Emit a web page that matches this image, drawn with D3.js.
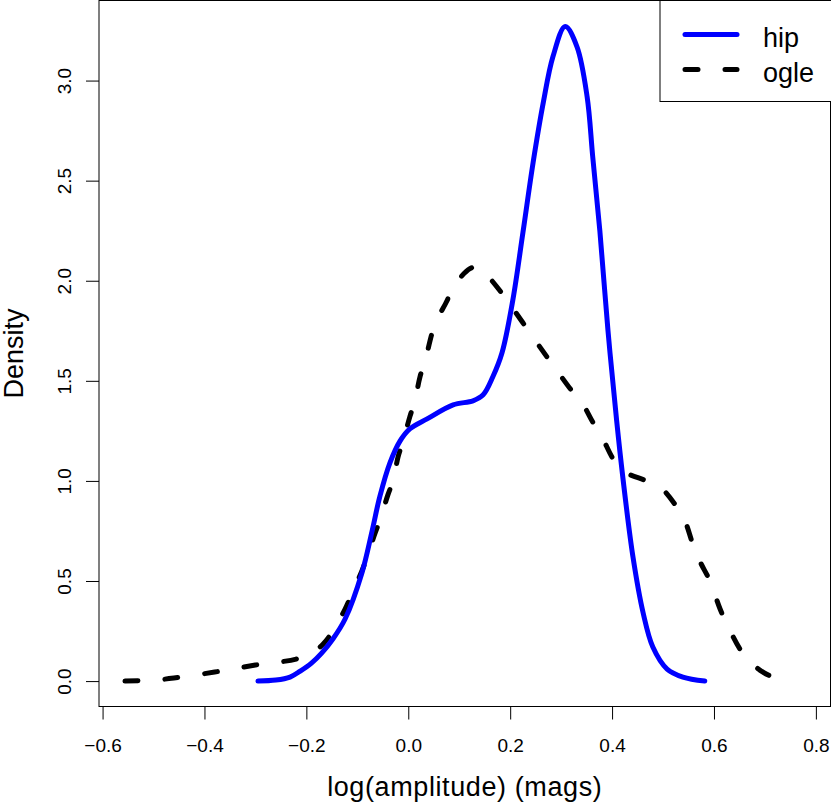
<!DOCTYPE html>
<html lang="en">

<head>
    <meta charset="UTF-8">
    <title>Density of log amplitude</title>
    <style>
        body { margin: 0; background: #fff; }
        text { font-family: "Liberation Sans", Arial, Helvetica, sans-serif; fill: #000; }
    </style>
</head>

<body>
    <div id="wrapper"></div>

    <script src="https://d3js.org/d3.v7.min.js"></script>
    <script>
        // density curves
        const hipX = [-0.295, -0.26, -0.232, -0.212, -0.19, -0.17, -0.148, -0.124, -0.091, -0.071, -0.056, -0.036, -0.016,
            0.003, 0.037, 0.088, 0.127, 0.147, 0.166, 0.184, 0.205, 0.225, 0.245, 0.265, 0.284, 0.308,
            0.331, 0.351, 0.362, 0.376, 0.392, 0.409, 0.421, 0.441, 0.461, 0.48, 0.508, 0.539, 0.582];
        const hipDensity = [0, 0.005, 0.02, 0.05, 0.09, 0.14, 0.21, 0.31, 0.54, 0.75, 0.92, 1.09, 1.2,
            1.26, 1.31, 1.38, 1.4, 1.43, 1.52, 1.64, 1.9, 2.24, 2.59, 2.89, 3.12, 3.27,
            3.17, 2.92, 2.62, 2.25, 1.75, 1.3, 1.02, 0.62, 0.34, 0.17, 0.06, 0.02, 0];

        const ogleX = [-0.556, -0.5, -0.46, -0.38, -0.3, -0.22, -0.19, -0.167, -0.148, -0.124, -0.105, -0.091, -0.081,
            -0.065, -0.056, -0.04, -0.03, -0.02, -0.01, 0.003, 0.013, 0.023, 0.033, 0.052, 0.076, 0.088,
            0.121, 0.135, 0.15, 0.18, 0.2, 0.225, 0.272, 0.292, 0.321, 0.341, 0.363, 0.38, 0.402, 0.421,
            0.468, 0.494, 0.527, 0.543, 0.559, 0.572, 0.592, 0.612, 0.63, 0.651, 0.67, 0.69, 0.72, 0.749];
        const ogleDensity = [0, 0.005, 0.015, 0.045, 0.08, 0.11, 0.14, 0.185, 0.25, 0.36, 0.47, 0.55, 0.62,
            0.74, 0.8, 0.93, 1.0, 1.12, 1.2, 1.32, 1.4, 1.52, 1.6, 1.78, 1.9, 1.97,
            2.06, 2.07, 2.04, 1.95, 1.88, 1.79, 1.62, 1.55, 1.45, 1.39, 1.29, 1.22, 1.11, 1.05,
            1.0, 0.97, 0.87, 0.8, 0.68, 0.6, 0.5, 0.36, 0.26, 0.16, 0.1, 0.055, 0.015, 0];

        const xTicks = [-0.6, -0.4, -0.2, 0.0, 0.2, 0.4, 0.6, 0.8];
        const yTicks = [0.0, 0.5, 1.0, 1.5, 2.0, 2.5, 3.0];
        const seriesNames = ["hip", "ogle"];

        const hip = hipX.map((x, i) => ({ x, y: hipDensity[i] }));
        const ogle = ogleX.map((x, i) => ({ x, y: ogleDensity[i] }));

        let dimensions = {
            width: 831,
            height: 807,
            margin: { top: 0.5, right: 0.5, bottom: 100.5, left: 99 },
        };
        dimensions.boundedWidth = dimensions.width - dimensions.margin.left - dimensions.margin.right;
        dimensions.boundedHeight = dimensions.height - dimensions.margin.top - dimensions.margin.bottom;

        const svg = d3.select("#wrapper").append("svg")
            .attr("width", dimensions.width)
            .attr("height", dimensions.height);

        const bounds = svg.append("g")
            .attr("transform", `translate(${dimensions.margin.left},${dimensions.margin.top})`);

        // plot region in data units (R pads the range a little)
        const xScale = d3.scaleLinear()
            .domain([-0.607, 0.8287])
            .range([0, dimensions.boundedWidth]);
        const yScale = d3.scaleLinear()
            .domain([-0.127, 3.40])
            .range([dimensions.boundedHeight, 0]);

        // box
        bounds.append("rect")
            .attr("width", dimensions.boundedWidth)
            .attr("height", dimensions.boundedHeight)
            .attr("fill", "none")
            .attr("stroke", "#000")
            .attr("stroke-width", 1);

        // x axis
        const xAxis = bounds.append("g")
            .attr("transform", `translate(0,${dimensions.boundedHeight})`)
            .call(d3.axisBottom(xScale).tickValues(xTicks).tickSize(13)
                .tickFormat(d => d3.format(".1f")(d).replace("-", "\u2212")));
        xAxis.select(".domain").remove();
        xAxis.selectAll(".tick line").attr("stroke", "#000");
        xAxis.selectAll(".tick text")
            .attr("dy", null)
            .attr("y", 45)
            .style("font-size", "19px");

        // y axis
        const yAxis = bounds.append("g")
            .call(d3.axisLeft(yScale).tickValues(yTicks).tickSize(13)
                .tickFormat(d3.format(".1f")));
        yAxis.select(".domain").remove();
        yAxis.selectAll(".tick line").attr("stroke", "#000");
        yAxis.selectAll(".tick text")
            .attr("x", null).attr("dy", null).attr("y", null)
            .attr("text-anchor", "middle")
            .attr("transform", "translate(-28,0) rotate(-90)")
            .style("font-size", "19px");

        // axis titles
        svg.append("text")
            .attr("x", dimensions.margin.left + dimensions.boundedWidth / 2)
            .attr("y", 796)
            .attr("text-anchor", "middle")
            .style("font-size", "27px")
            .style("letter-spacing", "0.6px")
            .text("log(amplitude) (mags)");

        svg.append("text")
            .attr("transform", `translate(23,${dimensions.margin.top + dimensions.boundedHeight / 2}) rotate(-90)`)
            .attr("text-anchor", "middle")
            .style("font-size", "27px")
            .text("Density");

        // curves
        const lineGenerator = d3.line()
            .x(d => xScale(d.x))
            .y(d => yScale(d.y))
            .curve(d3.curveCatmullRom.alpha(0.5));

        bounds.append("path")
            .attr("d", lineGenerator(ogle))
            .attr("fill", "none")
            .attr("stroke", "#000")
            .attr("stroke-width", 5)
            .attr("stroke-linecap", "round")
            .attr("stroke-dasharray", "13,27");

        bounds.append("path")
            .attr("d", lineGenerator(hip))
            .attr("fill", "none")
            .attr("stroke", "#0000ff")
            .attr("stroke-width", 5)
            .attr("stroke-linecap", "round");

        // legend
        const legend = svg.append("g").attr("transform", "translate(660,0.5)");
        legend.append("rect")
            .attr("width", 175)
            .attr("height", 101)
            .attr("fill", "#fff")
            .attr("stroke", "#000");
        const styles = [
            { color: "#0000ff", dash: null },
            { color: "#000", dash: "13,27" },
        ];
        seriesNames.forEach((name, i) => {
            const yy = 34 + i * 35;
            legend.append("line")
                .attr("x1", 25).attr("x2", 77)
                .attr("y1", yy).attr("y2", yy)
                .attr("stroke", styles[i].color)
                .attr("stroke-width", 5)
                .attr("stroke-linecap", "round")
                .attr("stroke-dasharray", styles[i].dash);
            legend.append("text")
                .attr("x", 103)
                .attr("y", yy + 12)
                .style("font-size", "27px")
                .text(name);
        });
    </script>
</body>

</html>
